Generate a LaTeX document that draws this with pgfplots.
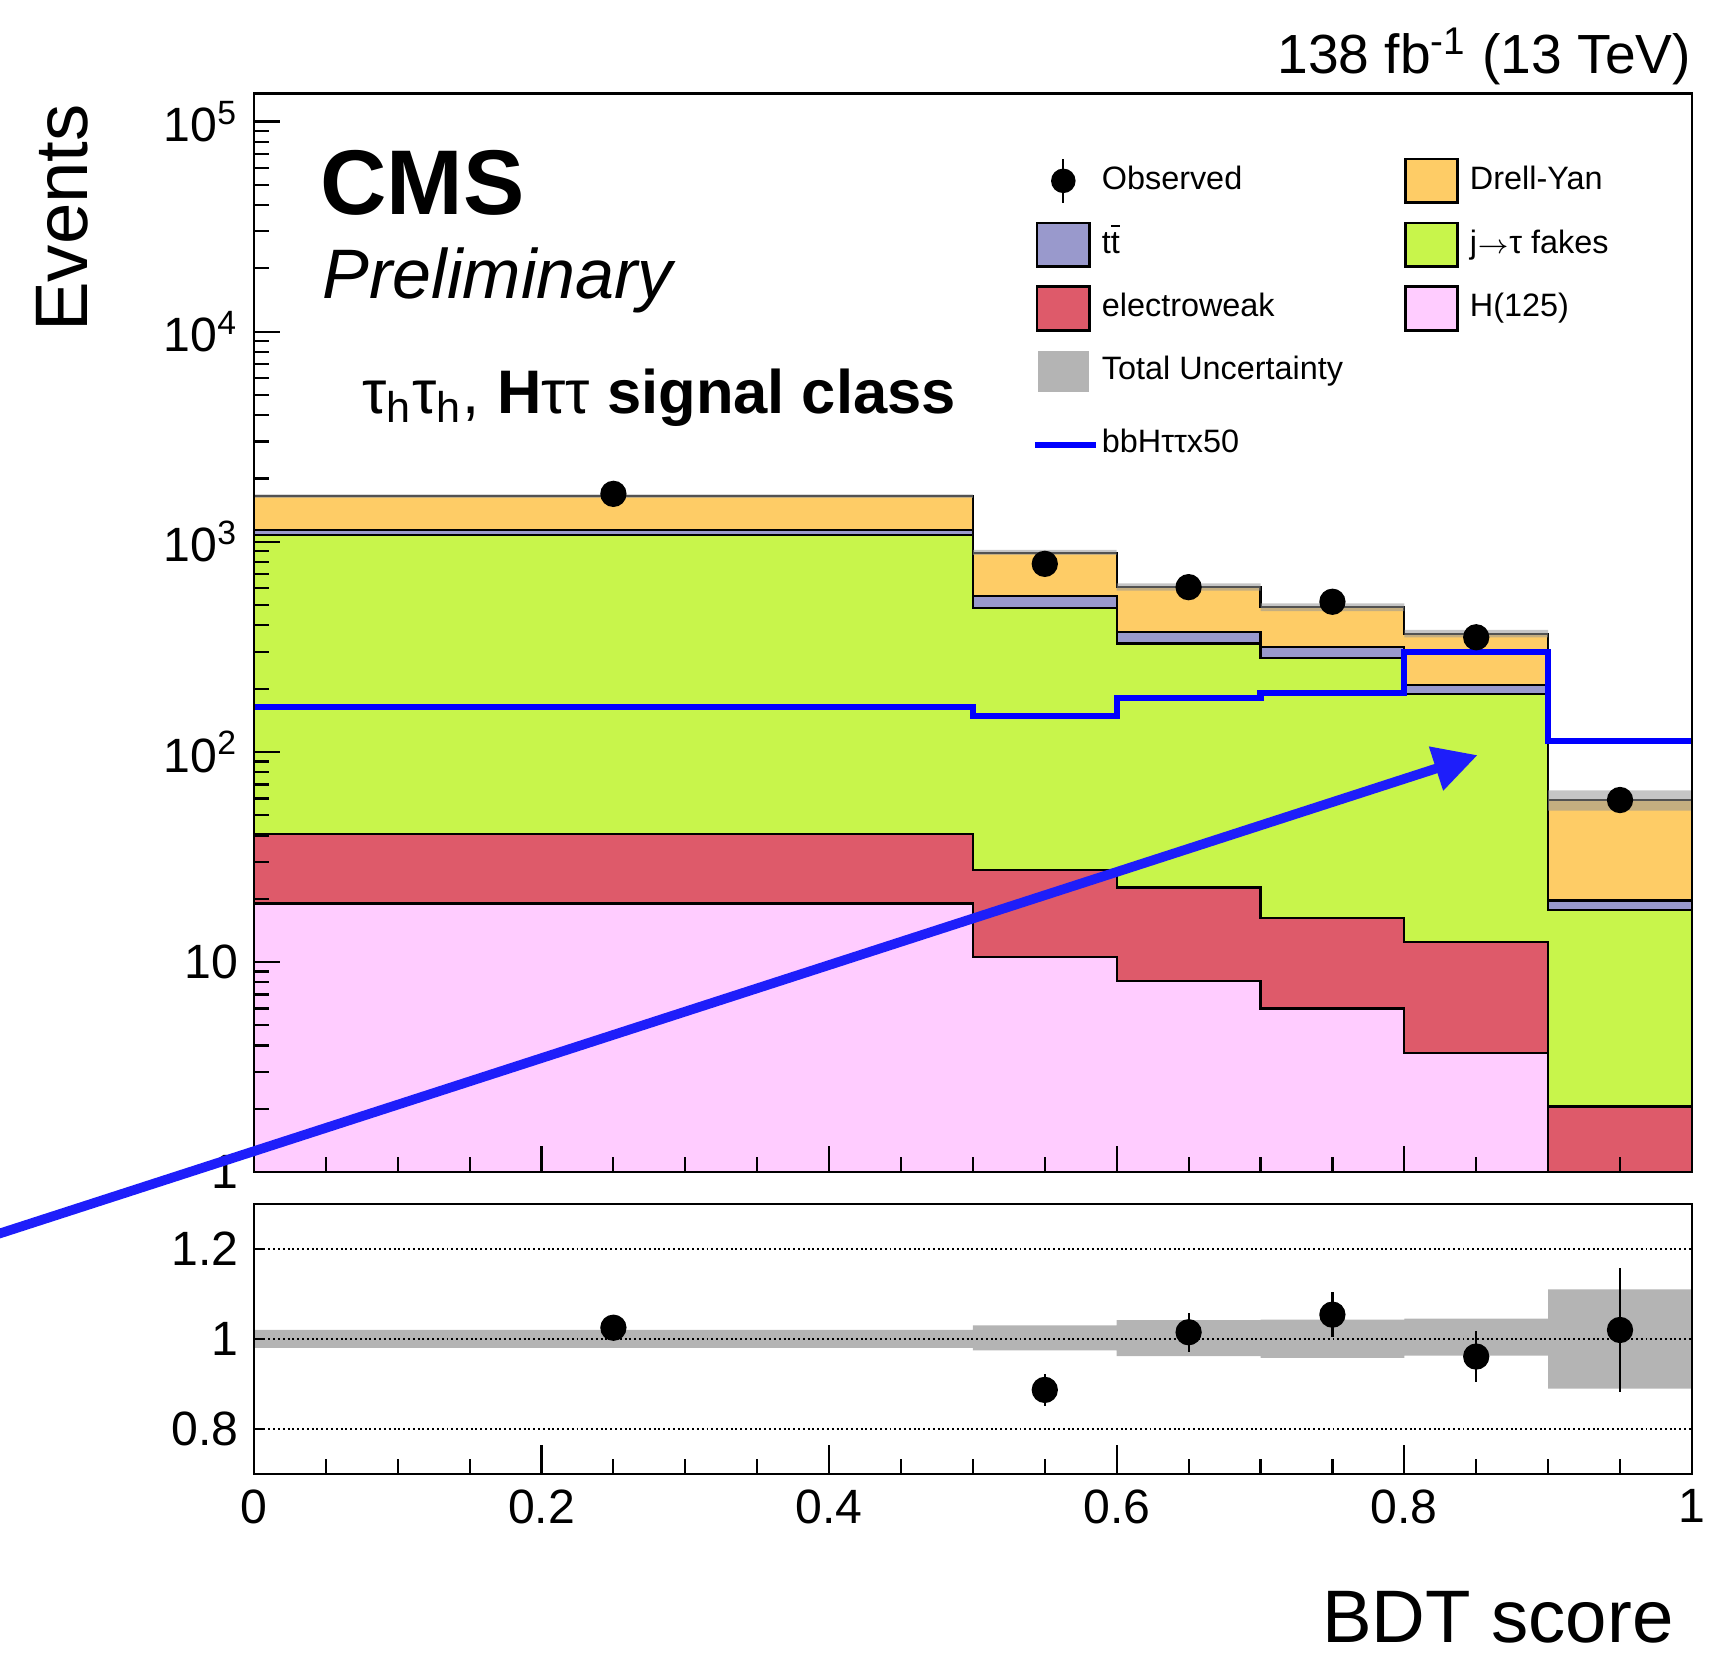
\documentclass[border=0pt]{standalone}
\usepackage{pgfplots}
\pgfplotsset{compat=1.18}
\usepackage{fontspec}
\setmainfont{Liberation Sans}
\usetikzlibrary{arrows.meta}

\definecolor{dycol}{RGB}{254,204,102}
\definecolor{ttcol}{RGB}{153,153,204}
\definecolor{fakecol}{RGB}{200,245,75}
\definecolor{ewcol}{RGB}{222,90,106}
\definecolor{hcol}{RGB}{255,204,255}
\definecolor{unccol}{RGB}{180,180,180}
\definecolor{bandcol}{RGB}{150,150,150}
\definecolor{arrowcol}{RGB}{30,30,250}

\newcommand{\Lc}[1]{\makebox[56pt][l]{#1}}

\begin{document}
\begin{tikzpicture}
% ---------------- main panel ----------------
\begin{axis}[
  name=main,
  at={(0pt,0pt)}, anchor=south west,
  scale only axis,
  width=328.5pt, height=246.4pt,
  xmin=0, xmax=1,
  ymode=log, ymin=1, ymax=1.36e5,
  ytick={1,10,100,1000,10000,100000},
  yticklabels={1,10,10\textsuperscript{2},10\textsuperscript{3},10\textsuperscript{4},10\textsuperscript{5}},
  minor ytick={2,3,4,5,6,7,8,9,20,30,40,50,60,70,80,90,200,300,400,500,600,700,800,900,2000,3000,4000,5000,6000,7000,8000,9000,20000,30000,40000,50000,60000,70000,80000,90000},
  xtick={0,0.2,0.4,0.6,0.8,1},
  minor xtick={0.05,0.1,0.15,0.25,0.3,0.35,0.45,0.5,0.55,0.65,0.7,0.75,0.85,0.9,0.95},
  xticklabels={},
  tick align=inside,
  tick pos=left,
  major tick length=6pt,
  minor tick length=3.4pt,
  tick style={black, line width=0.5pt},
  axis line style={line width=0.6pt},
  axis on top,
  ticklabel style={font=\fontsize{11}{13}\selectfont},
  legend columns=2,
  legend cell align=left,
  legend style={draw=none, fill=none, at={(0.5437,0.9405)}, anchor=north west,
    inner sep=0pt, outer sep=0pt, row sep=4pt,
    font=\fontsize{7.4}{8.5}\selectfont,
    nodes={inner sep=0pt, text height=5.3pt, text depth=1.5pt},
    /tikz/every odd column/.append style={column sep=2.5pt},
    /tikz/every even column/.append style={column sep=13pt}},
]
% stacked backgrounds (cumulative tops)
\addplot[const plot, fill=dycol, draw=black, line width=0.5pt, forget plot]
  coordinates {(0,1650)(0.5,887)(0.6,608)(0.7,488)(0.8,365)(0.9,59)(1,59)} \closedcycle;
\addplot[const plot, fill=ttcol, draw=black, line width=0.5pt, forget plot]
  coordinates {(0,1140)(0.5,552)(0.6,371)(0.7,315)(0.8,209)(0.9,19.6)(1,19.6)} \closedcycle;
\addplot[const plot, fill=fakecol, draw=black, line width=0.5pt, forget plot]
  coordinates {(0,1080)(0.5,482)(0.6,328)(0.7,280)(0.8,189)(0.9,17.6)(1,17.6)} \closedcycle;
\addplot[const plot, fill=ewcol, draw=black, line width=0.5pt, forget plot]
  coordinates {(0,40.5)(0.5,27.3)(0.6,22.6)(0.7,16.2)(0.8,12.4)(0.9,2.05)(1,2.05)} \closedcycle;
\addplot[const plot, fill=hcol, draw=black, line width=0.5pt, forget plot]
  coordinates {(0,19.0)(0.5,10.6)(0.6,8.1)(0.7,6.0)(0.8,3.7)(0.9,0.5)(1,0.5)} \closedcycle;
% total uncertainty band
\addplot[fill=bandcol, fill opacity=0.55, draw=none, forget plot]
  coordinates {(0,1683)(0.5,1683)(0.5,914)(0.6,914)(0.6,634)(0.7,634)(0.7,509)(0.8,509)(0.8,381)(0.9,381)(0.9,65.5)(1,65.5)
               (1,52.5)(0.9,52.5)(0.9,351)(0.8,351)(0.8,467)(0.7,467)(0.7,585)(0.6,585)(0.6,865)(0.5,865)(0.5,1617)(0,1617)} -- cycle;
% bbH x50
\addplot[const plot, color=blue, line width=1.4pt, forget plot]
  coordinates {(0,163)(0.5,148)(0.6,181)(0.7,191)(0.8,298)(0.9,113)(1,113)};
% observed
\addplot[only marks, mark=*, mark size=2.8pt, black, forget plot,
  error bars/.cd, y dir=both, y explicit, error mark=none,
  error bar style={line width=0.5pt}]
  coordinates {(0.25,1690) +- (0,41) (0.55,785) +- (0,28) (0.65,608) +- (0,25)
               (0.75,518) +- (0,23) (0.85,351) +- (0,19) (0.95,59) +- (0,7.7)};
% legend
\addlegendimage{legend image code/.code={\path[draw=none,fill=none] (-6.3pt,-5pt) rectangle (6.3pt,5pt);
   \draw[black, line width=0.5pt] (0,-5pt) -- (0,5pt); \fill[black] (0,0) circle (2.6pt);}}
\addlegendentry{\Lc{Observed}}
\addlegendimage{legend image code/.code={\draw[fill=dycol, draw=black, line width=0.6pt] (-6pt,-5pt) rectangle (6pt,5pt);}}
\addlegendentry{Drell-Yan}
\addlegendimage{legend image code/.code={\draw[fill=ttcol, draw=black, line width=0.6pt] (-6pt,-5pt) rectangle (6pt,5pt);}}
\addlegendentry{\Lc{t$\overline{\mbox{t}}$}}
\addlegendimage{legend image code/.code={\draw[fill=fakecol, draw=black, line width=0.6pt] (-6pt,-5pt) rectangle (6pt,5pt);}}
\addlegendentry{j{\fontsize{6.5}{6.5}\selectfont$\rightarrow$}τ fakes}
\addlegendimage{legend image code/.code={\draw[fill=ewcol, draw=black, line width=0.6pt] (-6pt,-5pt) rectangle (6pt,5pt);}}
\addlegendentry{\Lc{electroweak}}
\addlegendimage{legend image code/.code={\draw[fill=hcol, draw=black, line width=0.6pt] (-6pt,-5pt) rectangle (6pt,5pt);}}
\addlegendentry{H(125)}
\addlegendimage{legend image code/.code={\path[draw=none,fill=none] (-6.3pt,-7.75pt) rectangle (6.3pt,5pt); \fill[unccol] (-5.6pt,-4.5pt) rectangle (5.6pt,4.5pt);}}
\addlegendentry{\Lc{Total Uncertainty}}
\addlegendimage{empty legend}
\addlegendentry{}
\addlegendimage{legend image code/.code={\path[draw=none,fill=none] (-6.3pt,-5pt) rectangle (6.3pt,5pt); \draw[overlay, blue, line width=1.4pt] (-6.5pt,0) -- (7.5pt,0);}}
\addlegendentry{\Lc{bbHττx50}}
% arrow end points
\coordinate (arrS) at (axis cs:-0.1918,0.4726);
\coordinate (arrE) at (axis cs:0.851,96.5);
\end{axis}

% ---------------- ratio panel ----------------
\begin{axis}[
  name=ratio,
  at={(0pt,-7.25pt)}, anchor=north west,
  scale only axis,
  width=328.5pt, height=61.75pt,
  xmin=0, xmax=1, ymin=0.7, ymax=1.3,
  xtick={0,0.2,0.4,0.6,0.8,1},
  xticklabels={0,0.2,0.4,0.6,0.8,1},
  minor xtick={0.05,0.1,0.15,0.25,0.3,0.35,0.45,0.5,0.55,0.65,0.7,0.75,0.85,0.9,0.95},
  ytick={0.8,1,1.2},
  yticklabels={0.8,1,1.2},
  tick align=inside,
  tick pos=left,
  major tick length=6.75pt,
  minor tick length=3.5pt,
  y tick style={/pgfplots/major tick length=2.5pt},
  tick style={black, line width=0.5pt},
  axis line style={line width=0.6pt},
  axis on top,
  ymajorgrids,
  grid style={black, line width=0.6pt, dash pattern=on 0.45pt off 0.65pt},
  ticklabel style={font=\fontsize{11}{13}\selectfont},
]
\addplot[fill=unccol, draw=none]
  coordinates {(0,1.02)(0.5,1.02)(0.5,1.03)(0.6,1.03)(0.6,1.042)(0.7,1.042)(0.7,1.043)(0.8,1.043)(0.8,1.045)(0.9,1.045)(0.9,1.11)(1,1.11)
               (1,0.89)(0.9,0.89)(0.9,0.963)(0.8,0.963)(0.8,0.958)(0.7,0.958)(0.7,0.962)(0.6,0.962)(0.6,0.975)(0.5,0.975)(0.5,0.98)(0,0.98)} -- cycle;
\addplot[only marks, mark=*, mark size=2.8pt, black,
  error bars/.cd, y dir=both, y explicit, error mark=none,
  error bar style={line width=0.5pt}]
  coordinates {(0.25,1.025) +- (0,0.024) (0.55,0.887) +- (0,0.036) (0.65,1.015) +- (0,0.043)
               (0.75,1.054) +- (0,0.050) (0.85,0.961) +- (0,0.057) (0.95,1.020) +- (0,0.137)};
\end{axis}

% ---------------- texts ----------------
\node[anchor=base east, inner sep=0pt, font=\fontsize{12.6}{15}\selectfont]
  at ([yshift=4.5pt]main.north east) {138 fb\textsuperscript{-1} (13 TeV)};
\node[anchor=base west, inner sep=0pt, font=\bfseries\fontsize{21}{24}\selectfont]
  at ([xshift=15pt,yshift=-27.75pt]main.north west) {CMS};
\node[anchor=base west, inner sep=0pt, font=\itshape\fontsize{16}{19}\selectfont]
  at ([xshift=15.5pt,yshift=-46.75pt]main.north west) {Preliminary};
\node[anchor=base west, inner sep=0pt, font=\fontsize{14.05}{16}\selectfont]
  at ([xshift=24.5pt,yshift=-73pt]main.north west) {τ\textsubscript{h}τ\textsubscript{h}, \textbf{H}ττ\textbf{ signal class}};
\node[rotate=90, anchor=base east, inner sep=0pt, font=\fontsize{17}{20}\selectfont]
  at ([xshift=-38pt,yshift=-2.25pt]main.north west) {Events};
\node[anchor=base east, inner sep=0pt, font=\fontsize{17}{20}\selectfont]
  at ([xshift=-4pt,yshift=-38.5pt]ratio.south east) {BDT score};

% annotation arrow
\draw[arrowcol, line width=2.2pt, -{Triangle[length=10pt,width=10pt]}] (arrS) -- (arrE);

\pgfresetboundingbox
\useasboundingbox ([xshift=-58pt,yshift=-110.5pt]main.south west) rectangle ([xshift=334pt,yshift=267.75pt]main.south west);
\end{tikzpicture}
\end{document}
